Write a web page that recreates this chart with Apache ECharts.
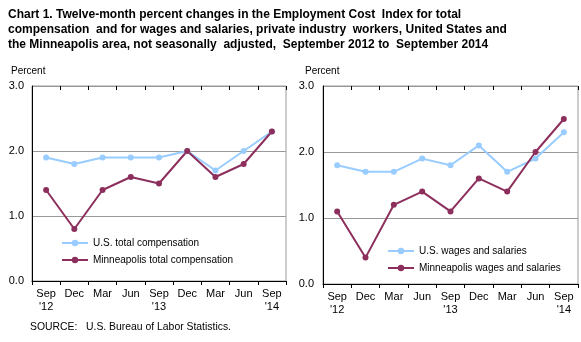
<!DOCTYPE html>
<html>
<head>
<meta charset="utf-8">
<script src="https://cdn.jsdelivr.net/npm/echarts@6/dist/echarts.min.js"></script>
<style>
  html, body { margin: 0; padding: 0; background: #fff; }
  #chart { width: 581px; height: 342px; }
</style>
</head>
<body>
<div id="chart"></div>
<script>
// Quarterly reference periods, September 2012 to September 2014
var categories = ["Sep\n'12", "Dec", "Mar", "Jun", "Sep\n'13", "Dec", "Mar", "Jun", "Sep\n'14"];

// Twelve-month percent changes, total compensation
var usTotalComp = [1.9, 1.8, 1.9, 1.9, 1.9, 2.0, 1.7, 2.0, 2.3];
var mplsTotalComp = [1.4, 0.8, 1.4, 1.6, 1.5, 2.0, 1.6, 1.8, 2.3];

// Twelve-month percent changes, wages and salaries
var usWages = [1.8, 1.7, 1.7, 1.9, 1.8, 2.1, 1.7, 1.9, 2.3];
var mplsWages = [1.1, 0.4, 1.2, 1.4, 1.1, 1.6, 1.4, 2.0, 2.5];

var yTicks = [0, 1, 2, 3];

var FONT = "Liberation Sans, Arial, sans-serif";
var BLUE = "#99ccff";
var MAROON = "#8c2f5c";

function catAxis(gridIndex, withLabels) {
  return {
    type: "category",
    gridIndex: gridIndex,
    data: categories,
    boundaryGap: true,
    axisLine: { show: withLabels, lineStyle: { color: "#000", width: 1 } },
    axisTick: { show: true, inside: !withLabels, length: 4, interval: 0, lineStyle: { color: "#000" } },
    axisLabel: {
      show: withLabels, interval: 0, color: "#000", fontFamily: FONT,
      fontSize: 11, lineHeight: 13, margin: 6
    },
    splitLine: { show: false }
  };
}

function valAxis(gridIndex, margin) {
  return {
    type: "value",
    gridIndex: gridIndex,
    min: yTicks[0],
    max: yTicks[yTicks.length - 1],
    interval: 1,
    axisLine: { show: true, lineStyle: { color: "#000" } },
    axisTick: { show: false },
    axisLabel: {
      color: "#000", fontFamily: FONT, fontSize: 11, margin: margin,
      formatter: function (v) { return v.toFixed(1); }
    },
    splitLine: { show: true, lineStyle: { color: "#999", width: 1 } }
  };
}

function lineSeries(name, data, color, axisIndex) {
  return {
    name: name,
    type: "line",
    xAxisIndex: axisIndex,
    yAxisIndex: axisIndex,
    data: data,
    symbol: "circle",
    symbolSize: 6,
    lineStyle: { color: color, width: 2 },
    itemStyle: { color: color },
    emphasis: { disabled: true },
    animation: false
  };
}

var chart = echarts.init(document.getElementById("chart"), null, { renderer: "canvas" });

var legendText = { color: "#000", fontFamily: FONT, fontSize: 10 };

chart.setOption({
  animation: false,
  title: {
    text: "Chart 1. Twelve-month percent changes in the Employment Cost  Index for total\ncompensation  and for wages and salaries, private industry  workers, United States and\nthe Minneapolis area, not seasonally  adjusted,  September 2012 to  September 2014",
    left: 8, top: 7, padding: 0,
    textStyle: { fontFamily: FONT, fontSize: 12, fontWeight: "bold", color: "#000", lineHeight: 15 }
  },
  grid: [
    { left: 32, top: 86, right: 295, bottom: 61, show: true, borderColor: "#999", borderWidth: 1, containLabel: false },
    { left: 323, top: 86, right: 3, bottom: 58, show: true, borderColor: "#999", borderWidth: 1, containLabel: false }
  ],
  xAxis: [catAxis(0, true), catAxis(1, true), catAxis(0, false), catAxis(1, false)],
  yAxis: [valAxis(0, 8), valAxis(1, 9)],
  legend: [
    {
      data: ["U.S. total compensation", "Minneapolis total compensation"],
      orient: "vertical", left: 61, top: 238, itemWidth: 26, itemHeight: 8, itemGap: 7,
      textStyle: legendText, padding: 0
    },
    {
      data: ["U.S. wages and salaries", "Minneapolis wages and salaries"],
      orient: "vertical", left: 387, top: 246, itemWidth: 26, itemHeight: 8, itemGap: 7,
      textStyle: legendText, padding: 0
    }
  ],
  series: [
    lineSeries("U.S. total compensation", usTotalComp, BLUE, 0),
    lineSeries("Minneapolis total compensation", mplsTotalComp, MAROON, 0),
    lineSeries("U.S. wages and salaries", usWages, BLUE, 1),
    lineSeries("Minneapolis wages and salaries", mplsWages, MAROON, 1)
  ],
  graphic: [
    { type: "text", left: 11, top: 66, style: { text: "Percent", fill: "#000", font: "10px " + FONT } },
    { type: "text", left: 305, top: 66, style: { text: "Percent", fill: "#000", font: "10px " + FONT } },
    { type: "text", left: 30, top: 322, style: { text: "SOURCE:   U.S. Bureau of Labor Statistics.", fill: "#000", font: "10.4px " + FONT } }
  ]
});
</script>
</body>
</html>
